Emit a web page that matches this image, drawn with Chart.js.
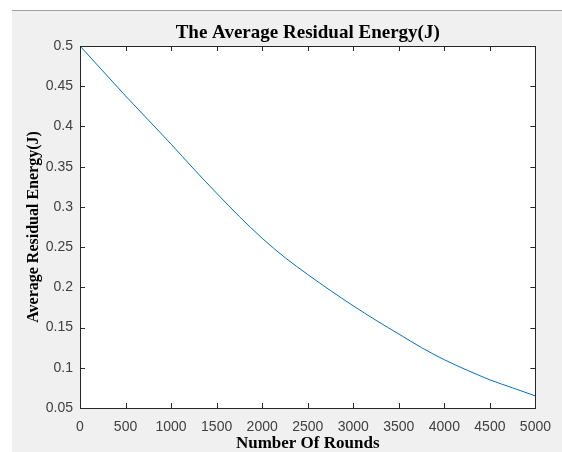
<!DOCTYPE html>
<html>
<head>
<meta charset="utf-8">
<script src="https://cdn.jsdelivr.net/npm/chart.js@4.4.1/dist/chart.umd.min.js"></script>
<style>
html, body { margin: 0; padding: 0; background: #fff; }
#chart { display: block; }
</style>
</head>
<body>
<canvas id="chart" width="562" height="452"></canvas>
<script>
// values
const rounds = [0, 250, 500, 750, 1000, 1250, 1500, 1750, 2000, 2250, 2500,
    2750, 3000, 3250, 3500, 3750, 4000, 4250, 4500, 4750, 5000];
const energy = [0.500, 0.469, 0.438, 0.408, 0.378, 0.347, 0.317, 0.288, 0.261, 0.237, 0.216,
    0.196, 0.177, 0.159, 0.142, 0.125, 0.110, 0.097, 0.085, 0.075, 0.065];

const xTicks = [0, 500, 1000, 1500, 2000, 2500, 3000, 3500, 4000, 4500, 5000];
const xTickLabels = ['0', '500', '1000', '1500', '2000', '2500', '3000', '3500', '4000', '4500', '5000'];
const yTicks = [0.05, 0.1, 0.15, 0.2, 0.25, 0.3, 0.35, 0.4, 0.45, 0.5];
const yTickLabels = ['0.05', '0.1', '0.15', '0.2', '0.25', '0.3', '0.35', '0.4', '0.45', '0.5'];

const titleText = 'The Average Residual Energy(J)';
const xTitle = 'Number Of Rounds';
const yTitle = 'Average Residual Energy(J)';

const axisColor = '#262626';
const tickFont = { family: 'Liberation Sans', size: 14 };

// figure background, white axes box, title, box outline and inward ticks
const matlabFrame = {
    id: 'matlabFrame',
    beforeDraw(chart) {
        const ctx = chart.ctx;
        const a = chart.chartArea;
        ctx.save();
        ctx.fillStyle = '#ffffff';
        ctx.fillRect(0, 0, chart.width, chart.height);
        ctx.fillStyle = '#f0f0f0';
        ctx.fillRect(12, 10, chart.width - 12, chart.height - 10);
        ctx.strokeStyle = '#a0a0a0';
        ctx.lineWidth = 1;
        ctx.beginPath();
        ctx.moveTo(12, 10.5);
        ctx.lineTo(chart.width, 10.5);
        ctx.stroke();
        ctx.fillStyle = '#ffffff';
        ctx.fillRect(a.left, a.top, a.right - a.left, a.bottom - a.top);
        ctx.restore();
    },
    afterDraw(chart) {
        const ctx = chart.ctx;
        const a = chart.chartArea;
        const x = chart.scales.x;
        const y = chart.scales.y;
        const len = 5;
        ctx.save();
        ctx.fillStyle = '#000000';
        ctx.font = 'bold 19px "Liberation Serif"';
        ctx.textAlign = 'center';
        ctx.textBaseline = 'alphabetic';
        ctx.fillText(titleText, (a.left + a.right) / 2, a.top - 8);

        ctx.strokeStyle = axisColor;
        ctx.lineWidth = 1;
        ctx.beginPath();
        xTicks.forEach(v => {
            const px = Math.round(x.getPixelForValue(v)) + 0.5;
            ctx.moveTo(px, a.bottom);
            ctx.lineTo(px, a.bottom - len);
            ctx.moveTo(px, a.top);
            ctx.lineTo(px, a.top + len);
        });
        yTicks.forEach(v => {
            const py = Math.round(y.getPixelForValue(v)) + 0.5;
            ctx.moveTo(a.left, py);
            ctx.lineTo(a.left + len, py);
            ctx.moveTo(a.right, py);
            ctx.lineTo(a.right - len, py);
        });
        ctx.stroke();
        ctx.strokeRect(Math.round(a.left) + 0.5, Math.round(a.top) + 0.5,
            Math.round(a.right - a.left), Math.round(a.bottom - a.top));
        ctx.restore();
    }
};

new Chart(document.getElementById('chart'), {
    type: 'line',
    data: {
        datasets: [{
            data: rounds.map((r, i) => ({ x: r, y: energy[i] })),
            borderColor: '#0072BD',
            borderWidth: 1,
            pointRadius: 0,
            fill: false,
            cubicInterpolationMode: 'monotone'
        }]
    },
    options: {
        responsive: false,
        animation: false,
        layout: { padding: { left: 0, right: 25, top: 46, bottom: 0 } },
        plugins: {
            legend: { display: false },
            tooltip: { enabled: false },
            title: { display: false }
        },
        scales: {
            x: {
                type: 'linear',
                min: 0,
                max: 5000,
                afterBuildTicks: scale => { scale.ticks = xTicks.map(v => ({ value: v })); },
                afterFit: scale => { scale.height = 44; },
                grid: { display: false, drawTicks: false },
                border: { display: false },
                ticks: {
                    color: '#404040',
                    font: tickFont,
                    padding: 11,
                    maxRotation: 0,
                    autoSkip: false,
                    callback: (v, i) => xTickLabels[i]
                },
                title: {
                    display: true,
                    text: xTitle,
                    color: '#000000',
                    font: { family: 'Liberation Serif', size: 17, weight: 'bold', lineHeight: 1 },
                    padding: { top: 0, bottom: 0 }
                }
            },
            y: {
                type: 'linear',
                min: 0.05,
                max: 0.5,
                afterBuildTicks: scale => { scale.ticks = yTicks.map(v => ({ value: v })); },
                afterFit: scale => { scale.width = 80; },
                grid: { display: false, drawTicks: false },
                border: { display: false },
                ticks: {
                    color: '#404040',
                    font: tickFont,
                    padding: 7,
                    autoSkip: false,
                    callback: (v, i) => yTickLabels[i]
                },
                title: {
                    display: true,
                    text: yTitle,
                    color: '#000000',
                    font: { family: 'Liberation Serif', size: 16, weight: 'bold', lineHeight: 1.2 },
                    padding: { top: 24, bottom: 0 }
                }
            }
        }
    },
    plugins: [matlabFrame]
});
</script>
</body>
</html>
